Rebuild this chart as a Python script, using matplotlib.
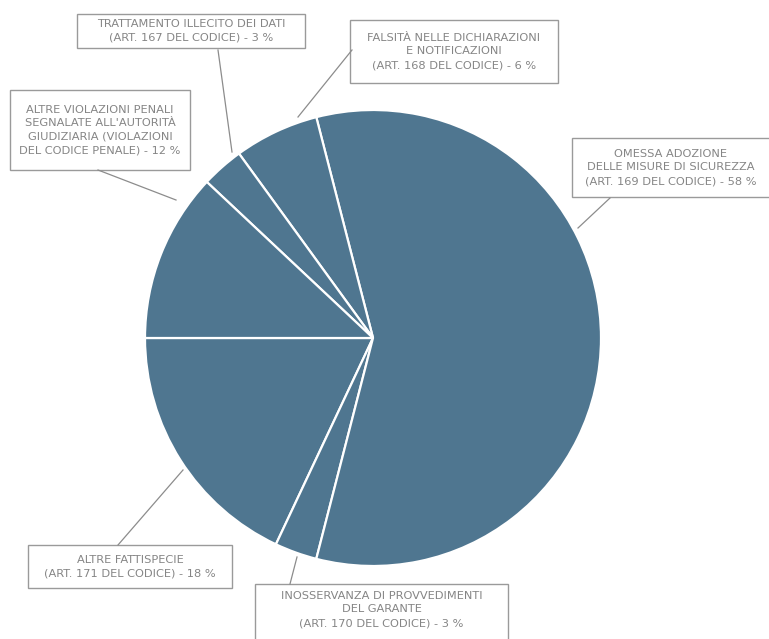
"""
Pie chart of penal violations reported (scanned report figure)
"""

import matplotlib
matplotlib.use('Agg')
import matplotlib.pyplot as plt
from matplotlib.patches import Rectangle

# Data (counter-clockwise from 9 o'clock)
labels = [
    "ALTRE FATTISPECIE\n(ART. 171 DEL CODICE) - 18 %",
    "INOSSERVANZA DI PROVVEDIMENTI\nDEL GARANTE\n(ART. 170 DEL CODICE) - 3 %",
    "OMESSA ADOZIONE\nDELLE MISURE DI SICUREZZA\n(ART. 169 DEL CODICE) - 58 %",
    "FALSITÀ NELLE DICHIARAZIONI\nE NOTIFICAZIONI\n(ART. 168 DEL CODICE) - 6 %",
    "TRATTAMENTO ILLECITO DEI DATI\n(ART. 167 DEL CODICE) - 3 %",
    "ALTRE VIOLAZIONI PENALI\nSEGNALATE ALL'AUTORITÀ\nGIUDIZIARIA (VIOLAZIONI\nDEL CODICE PENALE) - 12 %",
]
values = [18, 3, 58, 6, 3, 12]

W, H = 769, 639
PIE_COLOR = '#4f7690'
TEXT_COLOR = '#858585'
BOX_COLOR = '#9a9a9a'


def Y(y):
    """convert top-down pixel y to axes y"""
    return H - y


fig = plt.figure(figsize=(W / 100, H / 100), dpi=100, facecolor='white')
ax = fig.add_axes([0, 0, 1, 1])

ax.pie(values, colors=[PIE_COLOR] * len(values), startangle=180,
       counterclock=True, center=(373, Y(338)), radius=228,
       wedgeprops=dict(edgecolor='white', linewidth=1.6))

ax.set_xlim(0, W)
ax.set_ylim(0, H)
ax.set_aspect('equal')
ax.axis('off')

# label boxes: (x0, y0, x1, y1) in pixels, leader line (box end, pie end)
boxes = [
    ((28, 545, 232, 588), ((118, 545), (183, 470))),
    ((255, 584, 508, 645), ((290, 584), (297, 557))),
    ((572, 138, 775, 197), ((610, 198), (578, 228))),
    ((350, 20, 558, 83), ((352, 50), (298, 117))),
    ((77, 14, 305, 48), ((218, 50), (232, 152))),
    ((10, 90, 190, 170), ((98, 170), (176, 200))),
]

for text, ((x0, y0, x1, y1), (p0, p1)) in zip(labels, boxes):
    ax.add_patch(Rectangle((x0, Y(y1)), x1 - x0, y1 - y0, facecolor='white',
                           edgecolor=BOX_COLOR, linewidth=1.0))
    cx = (x0 + min(x1, W)) / 2
    cy = (y0 + min(y1, H - 4)) / 2
    ax.text(cx, Y(cy), text, ha='center', va='center', fontsize=8.2,
            color=TEXT_COLOR, family='DejaVu Sans', linespacing=1.45)
    ax.plot([p0[0], p1[0]], [Y(p0[1]), Y(p1[1])], color='#8c8c8c',
            linewidth=0.9)

fig.savefig('out.png', dpi=100, facecolor='white')
